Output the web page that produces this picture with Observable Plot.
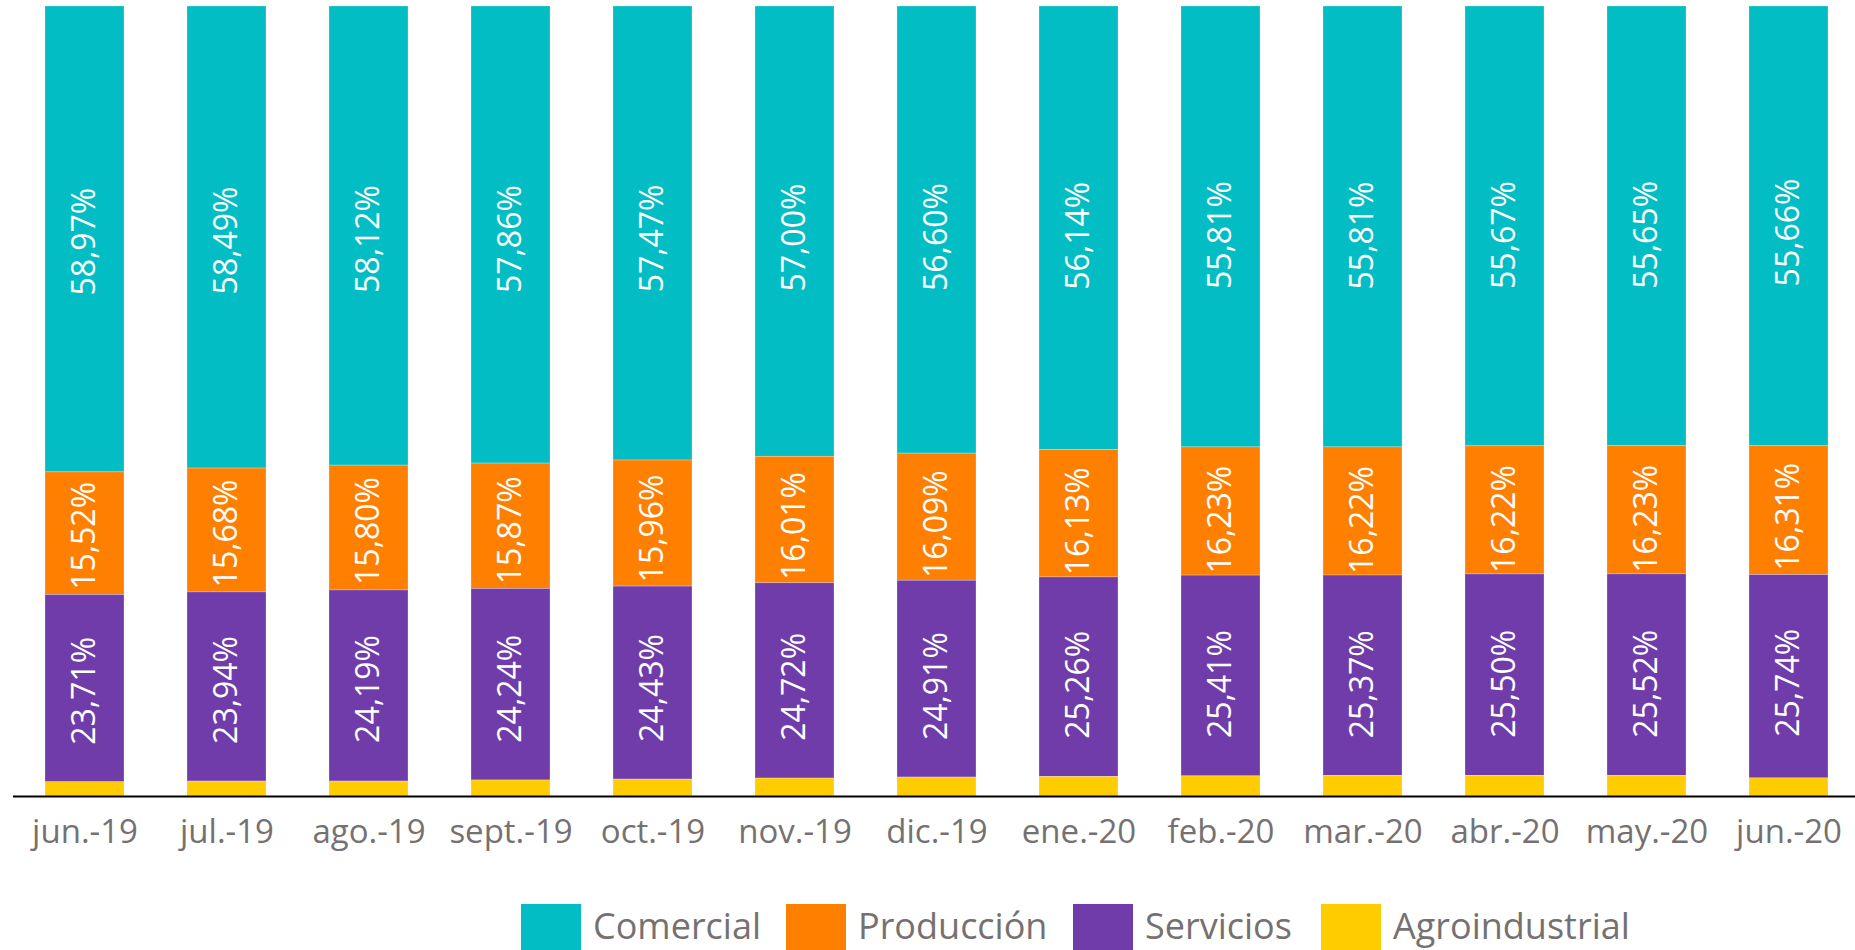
<!DOCTYPE html>
<html>
<head>
<meta charset="utf-8">
<script src="https://cdn.jsdelivr.net/npm/d3@7"></script>
<script src="https://cdn.jsdelivr.net/npm/@observablehq/plot@0.6"></script>
<style>
  html, body { margin: 0; padding: 0; background: #fff; overflow: hidden; }
  #wrap { position: relative; width: 1855px; height: 950px; font-family: "Open Sans", sans-serif; }
  .lg-sw { position: absolute; width: 60px; height: 60px; }
  .lg-tx { position: absolute; font-size: 36px; color: #767171; line-height: 46px; white-space: nowrap; }
</style>
</head>
<body>
<div id="wrap"></div>
<script>
const months = ["jun.-19","jul.-19","ago.-19","sept.-19","oct.-19","nov.-19","dic.-19","ene.-20","feb.-20","mar.-20","abr.-20","may.-20","jun.-20"];
const seriesNames = ["Comercial","Producción","Servicios","Agroindustrial"];
const seriesColors = ["#02BEC4","#FF7F00","#703CAA","#FFCC00"];
const comercial = [58.97,58.49,58.12,57.86,57.47,57.00,56.60,56.14,55.81,55.81,55.67,55.65,55.66];
const produccion = [15.52,15.68,15.80,15.87,15.96,16.01,16.09,16.13,16.23,16.22,16.22,16.23,16.31];
const servicios = [23.71,23.94,24.19,24.24,24.43,24.72,24.91,25.26,25.41,25.37,25.50,25.52,25.74];
const agroindustrial = [1.80,1.89,1.89,2.03,2.14,2.27,2.40,2.47,2.55,2.60,2.61,2.60,2.29];

const seriesValues = [comercial, produccion, servicios, agroindustrial];
const rows = [];
months.forEach((m, i) => {
  seriesNames.forEach((s, j) => rows.push({month: m, series: s, value: seriesValues[j][i]}));
});
const stackOrder = ["Agroindustrial","Servicios","Producción","Comercial"];
const fmt = v => v.toFixed(2).replace(".", ",") + "%";

const chart = Plot.plot({
  width: 1855,
  height: 880,
  marginTop: 6,
  marginBottom: 84,
  marginLeft: 13,
  marginRight: 0,
  style: {fontFamily: "Open Sans", background: "white", overflow: "visible"},
  x: {type: "band", domain: months, range: [13, 1860], paddingInner: 0.447, paddingOuter: 0.2235, label: null},
  y: {domain: [0, 100], axis: null},
  color: {domain: seriesNames, range: seriesColors},
  marks: [
    Plot.barY(rows, Plot.stackY({x: "month", y: "value", z: "series", fill: "series", order: stackOrder, stroke: "white", strokeOpacity: 0.35, strokeWidth: 0.7})),
    Plot.text(rows, Plot.stackY({
      x: "month", y: "value", z: "series", order: stackOrder,
      text: d => fmt(d.value),
      filter: d => d.series !== "Agroindustrial",
      rotate: -90, fill: "white", fontSize: 32, dy: -12
    })),
    Plot.ruleY([0], {stroke: "black", strokeWidth: 2}),
    Plot.axisX({tickSize: 0, tickPadding: 23, fontSize: 33, fill: "#767171", label: null})
  ]
});

const wrap = document.getElementById("wrap");
wrap.appendChild(chart);

const legendPos = [521, 786, 1073, 1321];
seriesNames.forEach((s, j) => {
  const sw = document.createElement("div");
  sw.className = "lg-sw";
  sw.style.left = legendPos[j] + "px";
  sw.style.top = "904px";
  sw.style.background = seriesColors[j];
  wrap.appendChild(sw);
  const tx = document.createElement("div");
  tx.className = "lg-tx";
  tx.style.left = (legendPos[j] + 72) + "px";
  tx.style.top = "903px";
  tx.textContent = s;
  wrap.appendChild(tx);
});
</script>
</body>
</html>
